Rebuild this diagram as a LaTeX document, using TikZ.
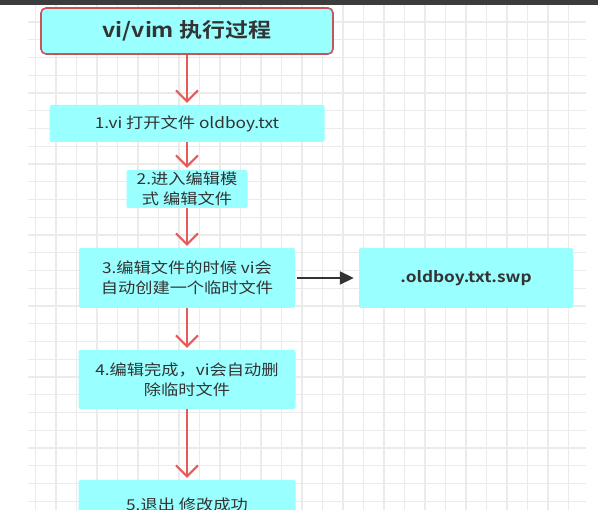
\documentclass[tikz,border=0pt]{standalone}
\usepackage{fontspec}
\newfontfamily\cjk{Noto Sans CJK SC}[FakeStretch=1.15,BoldFont={Noto Sans CJK SC Bold}]
\usetikzlibrary{arrows.meta}
\definecolor{boxcyan}{HTML}{99FFFF}
\definecolor{arrred}{HTML}{E65A5A}
\definecolor{txtgray}{HTML}{333333}
\definecolor{gridgray}{HTML}{EBEBEB}
\definecolor{barblack}{HTML}{3C3C3C}
\definecolor{titleborder}{HTML}{C8545A}

\begin{document}
\begin{tikzpicture}[x=1pt,y=-1pt,
  box/.style={fill=boxcyan,rounded corners=2pt,text=txtgray,align=center,inner sep=0pt,
    font=\cjk\fontsize{15}{20}\selectfont},
  flow/.style={draw=arrred,line width=2pt,-{Straight Barb[length=11pt,width=22pt,line width=2pt]},shorten >=2pt},
  side/.style={draw=txtgray,line width=2pt,-{Triangle[length=14pt,width=13pt]},shorten <=2pt,shorten >=5pt}]
\useasboundingbox (0,0) rectangle (598,510);
\clip (0,0) rectangle (598,510);
% grid
\foreach \i in {0,...,26}
  \draw[gridgray,line width=1.2pt] (35.5+20.5*\i,5) -- (35.5+20.5*\i,510);
\foreach \j in {0,...,27}
  \draw[gridgray,line width=1.2pt] (28,22+17.75*\j) -- (586,22+17.75*\j);
\fill[barblack] (0,0) rectangle (598,5);

\node[box,draw=titleborder,line width=1.6pt,rounded corners=5pt,minimum width=292pt,minimum height=46pt,
  font=\cjk\bfseries\fontsize{20}{24}\selectfont] (title) at (187,31) {vi/vim 执行过程};
\node[box,minimum width=275pt,minimum height=37pt] (open) at (187,123.5) {1.vi 打开文件 oldboy.txt};
\node[box,minimum width=121pt,minimum height=38pt] (edit) at (187,189) {2.进入编辑模\\式 编辑文件};
\node[box,minimum width=216pt,minimum height=60pt] (temp) at (187,278) {3.编辑文件的时候 vi会\\自动创建一个临时文件};
\node[box,minimum width=214pt,minimum height=60pt,font=\cjk\bfseries\fontsize{15}{20}\selectfont] (swp) at (466,278) {.oldboy.txt.swp};
\node[box,minimum width=217pt,minimum height=59pt] (done) at (187,379.5) {4.编辑完成，vi会自动删\\除临时文件};
\node[box,minimum width=217pt,minimum height=50pt] (quit) at (187,505) {5.退出 修改成功};

\draw[flow] (title) -- (open);
\draw[flow] (open) -- (edit);
\draw[flow] (edit) -- (temp);
\draw[flow] (temp) -- (done);
\draw[flow] (done) -- (quit);
\draw[side] (temp) -- (swp);
\end{tikzpicture}
\end{document}
